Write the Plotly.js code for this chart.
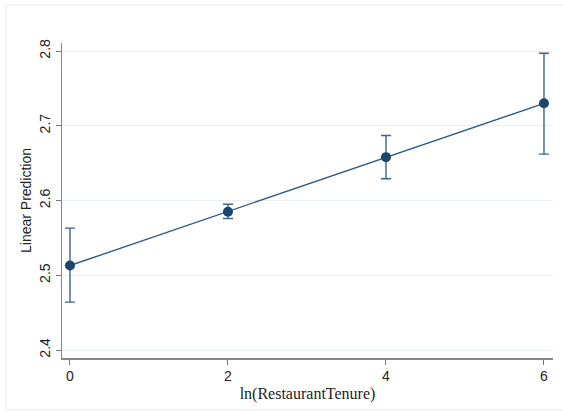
<!DOCTYPE html>
<html>
<head>
<meta charset="utf-8">
<script src="https://cdn.plot.ly/plotly-3.0.1.min.js"></script>
<style>html,body{margin:0;padding:0;background:#fff;}#chart{width:563px;height:412px;}</style>
</head>
<body>
<div id="chart"></div>
<script>
const tenure = [0, 2, 4, 6];
const prediction = [2.513, 2.585, 2.658, 2.730];
const ciLower = [2.464, 2.576, 2.629, 2.662];
const ciUpper = [2.563, 2.595, 2.687, 2.797];
const yTicks = [2.4, 2.5, 2.6, 2.7, 2.8];
const xTicks = [0, 2, 4, 6];

const navy = '#1a476f';
const sans = "Liberation Sans";
const serif = "Times New Roman";
const trace = {
  x: tenure,
  y: prediction,
  type: 'scatter',
  mode: 'lines+markers',
  line: {color: '#2e5a85', width: 1.4},
  marker: {color: navy, size: 10},
  error_y: {
    type: 'data',
    symmetric: false,
    array: prediction.map((v, i) => ciUpper[i] - v),
    arrayminus: prediction.map((v, i) => v - ciLower[i]),
    color: '#3a6590',
    thickness: 1.4,
    width: 5
  },
  hoverinfo: 'none'
};

const layout = {
  width: 563, height: 412,
  margin: {l: 62, r: 10, t: 43, b: 54},
  paper_bgcolor: '#ffffff',
  plot_bgcolor: '#ffffff',
  showlegend: false,
  xaxis: {
    range: [-0.101, 6.114],
    tickvals: xTicks,
    ticktext: xTicks.map(String),
    ticks: 'outside', ticklen: 5, tickwidth: 1, tickcolor: '#777',
    showline: true, linecolor: '#888', linewidth: 1.5,
    showgrid: false, zeroline: false,
    tickfont: {family: sans, size: 14, color: '#222'},
    title: {text: 'ln(RestaurantTenure)', font: {family: serif, size: 16, color: '#222'}, standoff: 4}
  },
  yaxis: {
    range: [2.3893, 2.8107],
    tickvals: yTicks,
    ticktext: yTicks.map(v => v.toFixed(1)),
    tickangle: -90,
    ticks: 'outside', ticklen: 5, tickwidth: 1, tickcolor: '#777',
    showline: true, linecolor: '#888', linewidth: 1.5,
    showgrid: true, gridcolor: '#eaf1f3', gridwidth: 1,
    zeroline: false,
    tickfont: {family: sans, size: 14, color: '#222'},
    title: {text: 'Linear Prediction', font: {family: sans, size: 14, color: '#222'}, standoff: 2}
  },
  shapes: [{
    type: 'rect', xref: 'paper', yref: 'paper',
    x0: -0.114, x1: 1.05, y0: -0.165, y1: 1.1206,
    line: {color: '#eef3f6', width: 1.5}, fillcolor: 'rgba(0,0,0,0)', layer: 'below'
  }]
};

Plotly.newPlot('chart', [trace], layout, {displayModeBar: false, staticPlot: true});
</script>
</body>
</html>
